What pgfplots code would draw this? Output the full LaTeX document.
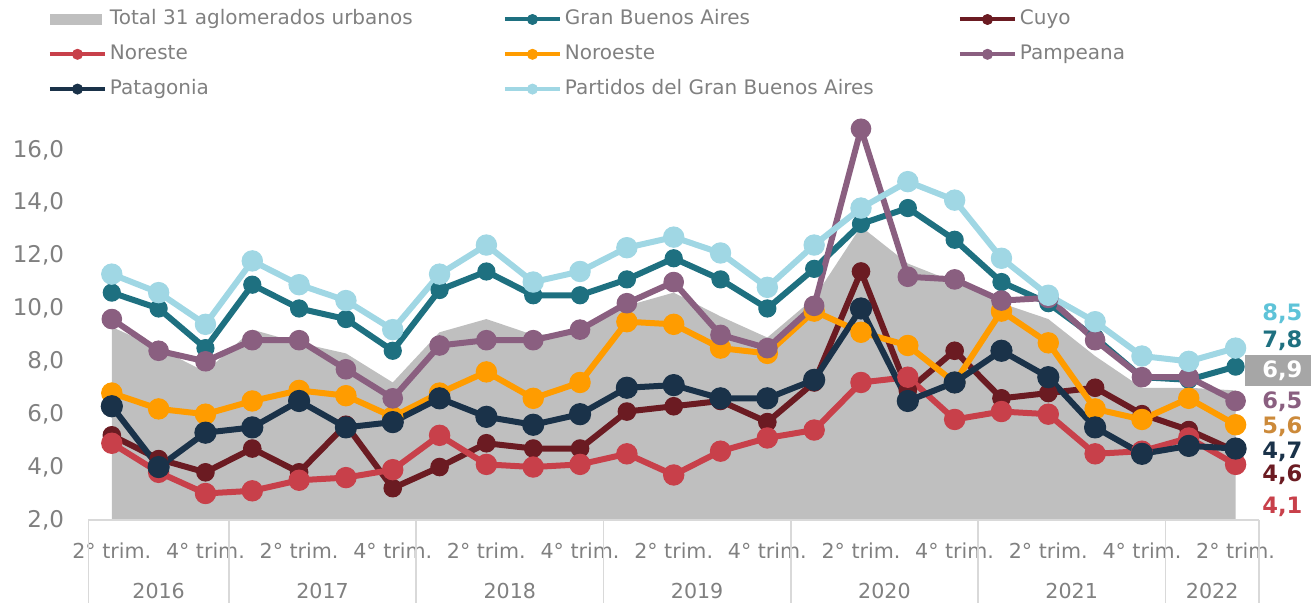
\documentclass[border=0pt]{standalone}
\usepackage{fontspec}
\setmainfont{DejaVu Sans}
\usepackage{pgfplots}
\pgfplotsset{compat=1.18}

\definecolor{totalgray}{HTML}{BFBFBF}
\definecolor{cgba}{HTML}{1E7080}
\definecolor{ccuyo}{HTML}{6B1B22}
\definecolor{cnoreste}{HTML}{C8404A}
\definecolor{cnoroeste}{HTML}{FF9C00}
\definecolor{cpampeana}{HTML}{8A5F80}
\definecolor{cpatagonia}{HTML}{1A3249}
\definecolor{cpartidos}{HTML}{A0D7E4}
\definecolor{lab85}{HTML}{5EC3D8}
\definecolor{lab56}{HTML}{CC8A3A}
\definecolor{boxgray}{HTML}{A6A6A6}
\definecolor{textgray}{HTML}{808080}
\definecolor{sepgray}{HTML}{D9D9D9}

\begin{document}
\begin{tikzpicture}
\begin{axis}[
  scale only axis,
  width=585.3pt, height=198.2pt,
  xmin=-0.5, xmax=24.5, ymin=2, ymax=17,
  clip=false,
  axis line style={draw=none},
  major tick length=0pt,
  xtick={0,2,...,24},
  xticklabels={2° trim.,4° trim.,2° trim.,4° trim.,2° trim.,4° trim.,2° trim.,4° trim.,2° trim.,4° trim.,2° trim.,4° trim.,2° trim.},
  ytick={2,4,...,16},
  /pgf/number format/assume math mode=true,
  /pgf/number format/fixed,
  /pgf/number format/fixed zerofill,
  /pgf/number format/precision=1,
  /pgf/number format/use comma,
  ticklabel style={text=textgray},
  yticklabel style={font=\fontsize{11.5}{13}\selectfont, anchor=east, inner sep=0pt, xshift=-12pt},
  xticklabel style={font=\fontsize{10.3}{12}\selectfont, anchor=base, inner sep=0pt, yshift=-19.3pt},
  legend columns=3,
  legend cell align=left,
  legend style={
    at={(0,1)}, anchor=north west, xshift=-20.2pt, yshift=56.75pt,
    draw=none, fill=none, inner sep=0pt, outer sep=0pt,
    column sep=1.5pt, row sep=7.9pt,
    nodes={inner sep=0pt, text height=7.5pt, text depth=2pt, font=\fontsize{10}{12}\selectfont, text=textgray},
  },
  legend image code/.code={\draw[#1,line width=2pt,mark size=2.5pt,mark repeat=2,mark phase=2] plot coordinates {(0pt,0pt) (13.75pt,0pt) (27.5pt,0pt)};},
  every axis plot/.append style={line width=3pt, line join=round, mark=*, mark options={solid, line width=0.5pt}},
]

% Total 31 aglomerados urbanos
\addplot[fill=totalgray, draw=none, mark=none,
  legend image code/.code={\fill[totalgray] (0pt,-2.75pt) rectangle (26pt,2.75pt);}]
  coordinates {(0,2) (0,9.3) (1,8.5) (2,7.6) (3,9.2) (4,8.7) (5,8.3) (6,7.2) (7,9.1) (8,9.6) (9,9.0) (10,9.1) (11,10.1) (12,10.6) (13,9.7) (14,8.9) (15,10.4) (16,13.1) (17,11.7) (18,11.0) (19,10.2) (20,9.6) (21,8.2) (22,7.0) (23,7.0) (24,6.9) (24,2)};
\addlegendentry{\makebox[195pt][l]{Total 31 aglomerados urbanos}}

% Gran Buenos Aires
\addplot[color=cgba, mark size=4.3pt]
  coordinates {(0,10.6) (1,10.0) (2,8.5) (3,10.9) (4,10.0) (5,9.6) (6,8.4) (7,10.7) (8,11.4) (9,10.5) (10,10.5) (11,11.1) (12,11.9) (13,11.1) (14,10.0) (15,11.5) (16,13.2) (17,13.8) (18,12.6) (19,11.0) (20,10.2) (21,8.9) (22,7.4) (23,7.3) (24,7.8)};
\addlegendentry{\makebox[195pt][l]{Gran Buenos Aires}}

% Cuyo
\addplot[color=ccuyo, mark size=4.4pt]
  coordinates {(0,5.2) (1,4.3) (2,3.8) (3,4.7) (4,3.8) (5,5.6) (6,3.2) (7,4.0) (8,4.9) (9,4.7) (10,4.7) (11,6.1) (12,6.3) (13,6.5) (14,5.7) (15,7.2) (16,11.4) (17,6.9) (18,8.4) (19,6.6) (20,6.8) (21,7.0) (22,6.0) (23,5.4) (24,4.6)};
\addlegendentry{Cuyo}

% Noreste
\addplot[color=cnoreste, mark size=5.1pt]
  coordinates {(0,4.9) (1,3.8) (2,3.0) (3,3.1) (4,3.5) (5,3.6) (6,3.9) (7,5.2) (8,4.1) (9,4.0) (10,4.1) (11,4.5) (12,3.7) (13,4.6) (14,5.1) (15,5.4) (16,7.2) (17,7.4) (18,5.8) (19,6.1) (20,6.0) (21,4.5) (22,4.6) (23,5.1) (24,4.1)};
\addlegendentry{\makebox[195pt][l]{Noreste}}

% Noroeste
\addplot[color=cnoroeste, mark size=5.1pt]
  coordinates {(0,6.8) (1,6.2) (2,6.0) (3,6.5) (4,6.9) (5,6.7) (6,5.9) (7,6.8) (8,7.6) (9,6.6) (10,7.2) (11,9.5) (12,9.4) (13,8.5) (14,8.3) (15,9.9) (16,9.1) (17,8.6) (18,7.2) (19,9.9) (20,8.7) (21,6.2) (22,5.8) (23,6.6) (24,5.6)};
\addlegendentry{\makebox[195pt][l]{Noroeste}}

% Pampeana
\addplot[color=cpampeana, mark size=4.9pt]
  coordinates {(0,9.6) (1,8.4) (2,8.0) (3,8.8) (4,8.8) (5,7.7) (6,6.6) (7,8.6) (8,8.8) (9,8.8) (10,9.2) (11,10.2) (12,11.0) (13,9.0) (14,8.5) (15,10.1) (16,16.8) (17,11.2) (18,11.1) (19,10.3) (20,10.4) (21,8.8) (22,7.4) (23,7.4) (24,6.5)};
\addlegendentry{Pampeana}

% Patagonia
\addplot[color=cpatagonia, mark size=5.3pt]
  coordinates {(0,6.3) (1,4.0) (2,5.3) (3,5.5) (4,6.5) (5,5.5) (6,5.7) (7,6.6) (8,5.9) (9,5.6) (10,6.0) (11,7.0) (12,7.1) (13,6.6) (14,6.6) (15,7.3) (16,10.0) (17,6.5) (18,7.2) (19,8.4) (20,7.4) (21,5.5) (22,4.5) (23,4.8) (24,4.7)};
\addlegendentry{\makebox[195pt][l]{Patagonia}}

% Partidos del Gran Buenos Aires
\addplot[color=cpartidos, mark size=5.1pt]
  coordinates {(0,11.3) (1,10.6) (2,9.4) (3,11.8) (4,10.9) (5,10.3) (6,9.2) (7,11.3) (8,12.4) (9,11.0) (10,11.4) (11,12.3) (12,12.7) (13,12.1) (14,10.8) (15,12.4) (16,13.8) (17,14.8) (18,14.1) (19,11.9) (20,10.5) (21,9.5) (22,8.2) (23,8.0) (24,8.5)};
\addlegendentry{\makebox[195pt][l]{Partidos del Gran Buenos Aires}}

% category axis decorations
\draw[sepgray, line width=0.75pt] (axis cs:-0.5,2) -- (axis cs:24.5,2);
\pgfplotsinvokeforeach{-0.5,2.5,6.5,10.5,14.5,18.5,22.5,24.5}{
  \draw[sepgray, line width=0.75pt] (axis cs:#1,2) -- ++(0pt,-41.5pt);
}
\node[anchor=base, yshift=-39.3pt, inner sep=0pt, font=\fontsize{10.3}{12}\selectfont, text=textgray] at (axis cs:1,2) {2016};
\node[anchor=base, yshift=-39.3pt, inner sep=0pt, font=\fontsize{10.3}{12}\selectfont, text=textgray] at (axis cs:4.5,2) {2017};
\node[anchor=base, yshift=-39.3pt, inner sep=0pt, font=\fontsize{10.3}{12}\selectfont, text=textgray] at (axis cs:8.5,2) {2018};
\node[anchor=base, yshift=-39.3pt, inner sep=0pt, font=\fontsize{10.3}{12}\selectfont, text=textgray] at (axis cs:12.5,2) {2019};
\node[anchor=base, yshift=-39.3pt, inner sep=0pt, font=\fontsize{10.3}{12}\selectfont, text=textgray] at (axis cs:16.5,2) {2020};
\node[anchor=base, yshift=-39.3pt, inner sep=0pt, font=\fontsize{10.3}{12}\selectfont, text=textgray] at (axis cs:20.5,2) {2021};
\node[anchor=base, yshift=-39.3pt, inner sep=0pt, font=\fontsize{10.3}{12}\selectfont, text=textgray] at (axis cs:23.5,2) {2022};

% end labels
\node[anchor=west, xshift=13.2pt, inner sep=0pt, font=\bfseries\fontsize{11.3}{13}\selectfont, text=lab85] at (axis cs:24,9.82) {8,5};
\node[anchor=west, xshift=13.2pt, inner sep=0pt, font=\bfseries\fontsize{11.3}{13}\selectfont, text=cgba] at (axis cs:24,8.78) {7,8};
\node[anchor=west, xshift=4.7pt, fill=boxgray, minimum height=15.5pt, text width=24pt, align=right, inner xsep=4.5pt, inner ysep=0pt, font=\bfseries\fontsize{11.3}{13}\selectfont, text=white] at (axis cs:24,7.64) {6,9};
\node[anchor=west, xshift=13.2pt, inner sep=0pt, font=\bfseries\fontsize{11.3}{13}\selectfont, text=cpampeana] at (axis cs:24,6.48) {6,5};
\node[anchor=west, xshift=13.2pt, inner sep=0pt, font=\bfseries\fontsize{11.3}{13}\selectfont, text=lab56] at (axis cs:24,5.54) {5,6};
\node[anchor=west, xshift=13.2pt, inner sep=0pt, font=\bfseries\fontsize{11.3}{13}\selectfont, text=cpatagonia] at (axis cs:24,4.58) {4,7};
\node[anchor=west, xshift=13.2pt, inner sep=0pt, font=\bfseries\fontsize{11.3}{13}\selectfont, text=ccuyo] at (axis cs:24,3.70) {4,6};
\node[anchor=west, xshift=13.2pt, inner sep=0pt, font=\bfseries\fontsize{11.3}{13}\selectfont, text=cnoreste] at (axis cs:24,2.50) {4,1};

\coordinate (BL) at (rel axis cs:0,0);
\coordinate (TR) at (rel axis cs:1,1);
\end{axis}
\pgfresetboundingbox
\path[use as bounding box] ([xshift=-44.2pt,yshift=-41.5pt]BL) rectangle ([xshift=26pt,yshift=61.75pt]TR);
\end{tikzpicture}
\end{document}
